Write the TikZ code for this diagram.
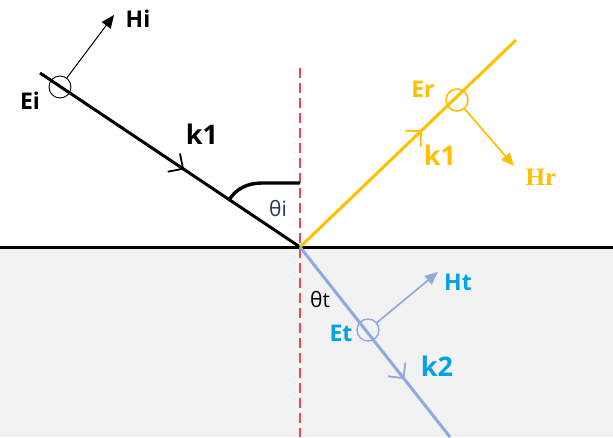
\documentclass[tikz,border=0pt]{standalone}
\usepackage{fontspec}
\setmainfont{Open Sans}
\newfontfamily\serifbold{Liberation Serif}
\usetikzlibrary{arrows.meta, decorations.markings}

\definecolor{reflcol}{RGB}{255,192,0}
\definecolor{transcol}{RGB}{143,170,220}
\definecolor{translbl}{RGB}{0,163,232}
\definecolor{mediumcol}{RGB}{242,242,242}
\definecolor{normalcol}{RGB}{240,70,80}
\definecolor{thetacol}{RGB}{40,50,95}

\begin{document}
\begin{tikzpicture}[x=1pt, y=-1pt,
    ray/.style={line width=3pt},
    midarrow/.style={postaction={decorate}, decoration={markings,
        mark=at position #1 with {\draw[line width=1.8pt, line join=round] (-11pt,11pt) -- (0pt,0pt) -- (-11pt,-11pt);}}},
    field/.style={-{Triangle[length=13pt, width=11pt]}},
    ring/.style={circle, draw, minimum size=22pt, inner sep=0pt},
    lbl/.style={font=\fontsize{23}{26}\selectfont\bfseries},
    klbl/.style={font=\fontsize{27}{30}\selectfont\bfseries},
    ang/.style={font=\fontsize{21}{24}\selectfont},
  ]
  \useasboundingbox (0,0) rectangle (613,437);
  % medium below the surface
  \fill[mediumcol] (0,247) rectangle (613,437);

  \coordinate (o) at (300,247);
  \coordinate (istart) at (40,73);
  \coordinate (rend) at (516,40);
  \coordinate (tend) at (450,437);
  \coordinate (ntop) at (300,68);
  \coordinate (nbot) at (300,437);
  \coordinate (sl) at (0,247);
  \coordinate (sr) at (613,247);

  % normal and surface
  \draw[normalcol, line width=1.5pt, dash pattern=on 10pt off 5pt] (ntop) -- (nbot);
  \draw[line width=3pt] (sl) -- (sr);

  % rays
  \draw[ray, midarrow=0.55] (istart) -- (o);
  \draw[ray, reflcol, midarrow=0.56] (o) -- (rend);
  \draw[ray, transcol, midarrow=0.69] (o) -- (tend);

  % angle of incidence
  \draw[line width=3.4pt] (229,200) .. controls (236,189) and (247,183) .. (262,183) -- (300,183);

  % field rings
  \node[ring, line width=0.9pt] (ei) at (60,87) {};
  \node[ring, reflcol, line width=1.6pt] (er) at (457,100) {};
  \node[ring, transcol, line width=1.4pt] (et) at (368,330) {};

  \coordinate (hitip) at (114,15);
  \coordinate (hrtip) at (514,166);
  \coordinate (httip) at (438,272);
  \draw[field, line width=1pt] (ei) -- (hitip);
  \draw[field, reflcol, line width=1.7pt] (er) -- (hrtip);
  \draw[field, transcol, line width=1.7pt] (et) -- (httip);

  % labels
  \node[lbl] (eil) at (30,101) {Ei};
  \node[lbl] (hil) at (138,19) {Hi};
  \node[klbl] (k1i) at (202,134) {k1};
  \node[ang, thetacol] (thi) at (278,209) {θi};

  \node[lbl, reflcol] (erl) at (423,89) {Er};
  \node[klbl, reflcol] (k1r) at (440,155) {k1};
  \node[reflcol, font=\serifbold\fontsize{25}{28}\selectfont\bfseries] (hrl) at (541,177) {Hr};

  \node[lbl, translbl] (etl) at (341,333) {Et};
  \node[lbl, translbl] (htl) at (458,282) {Ht};
  \node[klbl, translbl] (k2t) at (437,366) {k2};
  \node[ang] (tht) at (320,300) {θt};
\end{tikzpicture}
\end{document}
